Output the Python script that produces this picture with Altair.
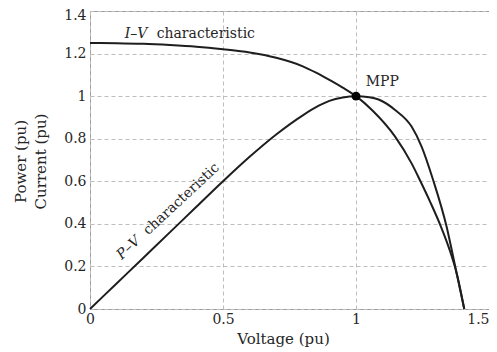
import altair as alt
import pandas as pd

# I-V characteristic (voltage, current)
iv_v = [0.0, 0.1, 0.2, 0.3, 0.4, 0.5, 0.6, 0.7, 0.8, 0.85, 0.9, 0.95, 1.0, 1.06, 1.147, 1.209, 1.24, 1.28, 1.32, 1.35, 1.38, 1.407]
iv_i = [1.25, 1.249, 1.246, 1.24, 1.232, 1.22, 1.205, 1.18, 1.14, 1.11, 1.076, 1.04, 1.0, 0.935, 0.81, 0.684, 0.606, 0.5, 0.385, 0.285, 0.16, 0.0]

# P-V characteristic (voltage, power)
pv_v = [0.0, 0.1, 0.2, 0.3, 0.4, 0.5, 0.6, 0.7, 0.8, 0.86, 0.9, 0.95, 1.0, 1.05, 1.085, 1.147, 1.209, 1.247, 1.29, 1.34, 1.374, 1.407]
pv_p = [0.0, 0.12, 0.24, 0.36, 0.48, 0.6, 0.715, 0.82, 0.91, 0.955, 0.978, 0.994, 1.0, 0.995, 0.984, 0.935, 0.857, 0.762, 0.606, 0.39, 0.194, 0.0]

mpp_v = [1.0]
mpp_p = [1.0]

x_ticks = [0, 0.5, 1, 1.5]
y_ticks = [0, 0.2, 0.4, 0.6, 0.8, 1, 1.2, 1.4]

# text labels (horizontal)
lab_text = ["I–V", "characteristic", "MPP"]
lab_v = [0.1309, 0.2506, 1.0362]
lab_y = [1.2732, 1.2732, 1.0476]
lab_style = ["italic", "normal", "normal"]

# text labels (rotated along the P-V line)
rot_text = ["P–V", "characteristic"]
rot_v = [0.1197, 0.2188]
rot_y = [0.2302, 0.3448]
rot_style = ["italic", "normal"]

FONT = "DejaVu Serif"
INK = "#1e1e1e"
TXT = "#262626"

df_iv = pd.DataFrame({"v": iv_v, "y": iv_i})
df_pv = pd.DataFrame({"v": pv_v, "y": pv_p})
df_mpp = pd.DataFrame({"v": mpp_v, "y": mpp_p})
df_lab = pd.DataFrame({"v": lab_v, "y": lab_y, "t": lab_text, "s": lab_style})
df_rot = pd.DataFrame({"v": rot_v, "y": rot_y, "t": rot_text, "s": rot_style})

xs = alt.Scale(domain=[0, 1.5], nice=False, zero=False)
ys = alt.Scale(domain=[0, 1.4], nice=False, zero=False)

xax = alt.Axis(values=x_ticks, labelExpr="format(datum.value, '~g')", title="Voltage (pu)",
               grid=True, gridDash=[4, 3], gridColor="#bdbdbd", gridWidth=1,
               domain=False, ticks=False, labelPadding=3, labelFont=FONT, labelFontSize=14,
               labelAlign={"condition": {"test": "datum.value == 1.5", "value": "right"}, "value": "center"},
               labelColor=TXT, titleFont=FONT, titleFontSize=15, titleFontWeight="normal",
               titleColor=TXT, titleX=193, titleY=34, titleBaseline="alphabetic",
               titleAnchor="middle", labelFlush=False)
yax = alt.Axis(values=y_ticks, labelExpr="format(datum.value, '~g')",
               title=["Power (pu)", "Current (pu)"],
               grid=True, gridDash=[4, 3], gridColor="#bdbdbd", gridWidth=1,
               domain=False, ticks=False, labelPadding=4, labelFont=FONT, labelFontSize=14,
               labelBaseline={"condition": {"test": "datum.value == 1.4", "value": "top"}, "value": "middle"},
               labelOffset={"condition": {"test": "datum.value == 1.4", "value": -3}, "value": 0},
               labelColor=TXT, titleFont=FONT, titleFontSize=15, titleFontWeight="normal",
               titleColor=TXT, titleX=-70, titleY=150, titleBaseline="middle",
               titleLineHeight=20, labelFlush=False)

px = alt.X("v:Q", scale=xs)
py = alt.Y("y:Q", scale=ys)

iv_line = alt.Chart(df_iv).mark_line(color=INK, strokeWidth=2, interpolate="monotone").encode(
    x=alt.X("v:Q", scale=xs, axis=xax), y=alt.Y("y:Q", scale=ys, axis=yax), order="v:Q")
pv_line = alt.Chart(df_pv).mark_line(color=INK, strokeWidth=2, interpolate="monotone").encode(
    x=px, y=py, order="v:Q")
dot = alt.Chart(df_mpp).mark_circle(color="#000000", size=80, opacity=1).encode(x=px, y=py)

layers = [iv_line, pv_line, dot]
for style in ["italic", "normal"]:
    layers.append(
        alt.Chart(df_lab).transform_filter(alt.datum.s == style).mark_text(
            font=FONT, fontSize=14, color=TXT, align="left", baseline="alphabetic",
            fontStyle=style).encode(x=px, y=py, text="t:N"))
    layers.append(
        alt.Chart(df_rot).transform_filter(alt.datum.s == style).mark_text(
            font=FONT, fontSize=14, color=TXT, align="left", baseline="alphabetic",
            angle=317, fontStyle=style).encode(x=px, y=py, text="t:N"))

chart = alt.layer(*layers).properties(
    width=399, height=298,
    autosize=alt.AutoSizeParams(type="none"),
    padding={"left": 82, "top": 3, "right": 0, "bottom": 40},
    background="white",
).configure_view(stroke="#9a9a9a", strokeWidth=1)

chart.save("out.html", embed_options={"renderer": "svg", "actions": False})
